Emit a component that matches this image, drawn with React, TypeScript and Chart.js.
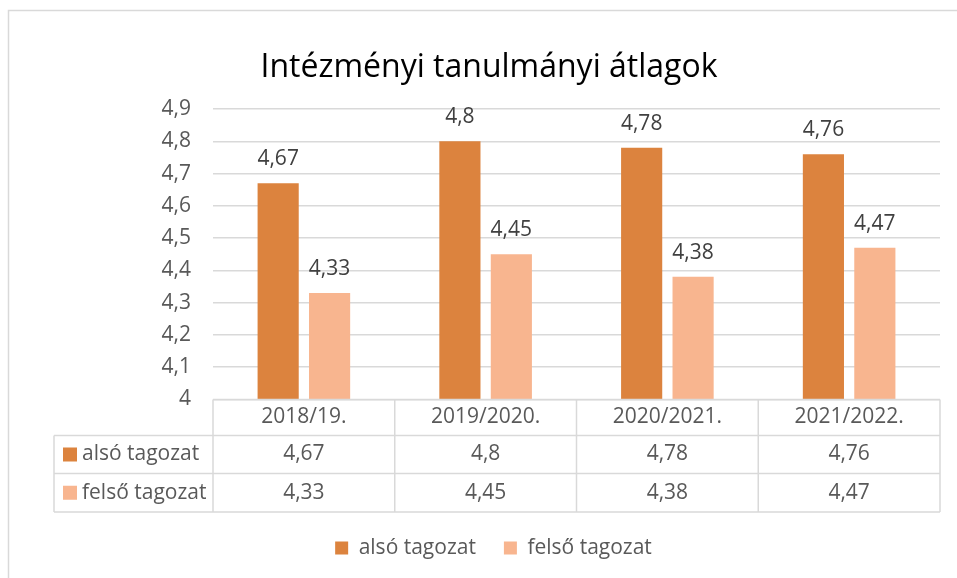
import React, { useEffect, useRef } from "react";
import { Chart, registerables } from "chart.js";

Chart.register(...registerables);

const chartTitle = "Intézményi tanulmányi átlagok";
const categories = ["2018/19.", "2019/2020.", "2020/2021.", "2021/2022."];
const seriesNames = ["alsó tagozat", "felső tagozat"];
const alsoValues = [4.67, 4.8, 4.78, 4.76];
const felsoValues = [4.33, 4.45, 4.38, 4.47];
const yMin = 4;
const yMax = 4.9;
const yStep = 0.1;
const seriesColors = ["#DC833E", "#F8B58F"];

const FONT = '"Open Sans", sans-serif';
const GRID = "#d9d9d9";
const TEXT = "#595959";

const fmt = (v: number) => String(Math.round(v * 100) / 100).replace(".", ",");

const decorPlugin = {
  id: "decor",
  beforeDraw(chart: any) {
    const ctx = chart.ctx;
    ctx.save();
    ctx.fillStyle = "#ffffff";
    ctx.fillRect(0, 0, chart.width, chart.height);
    ctx.strokeStyle = GRID;
    ctx.lineWidth = 1.5;
    ctx.strokeRect(8.5, 10.5, chart.width + 50, chart.height + 50);
    ctx.restore();
  },
  afterDatasetsDraw(chart: any) {
    const ctx = chart.ctx;
    ctx.save();
    ctx.font = `21px ${FONT}`;
    ctx.fillStyle = "#404040";
    ctx.textAlign = "center";
    ctx.textBaseline = "alphabetic";
    chart.data.datasets.forEach((ds: any, di: number) => {
      const meta = chart.getDatasetMeta(di);
      meta.data.forEach((el: any, i: number) => {
        ctx.fillText(fmt(ds.data[i]), el.x, el.y - 18);
      });
    });
    ctx.restore();
  },
  afterDraw(chart: any) {
    const ctx = chart.ctx;
    const area = chart.chartArea;
    const xs = chart.scales.x;
    ctx.save();
    // title
    ctx.font = `32px ${FONT}`;
    ctx.fillStyle = "#000000";
    ctx.textAlign = "center";
    ctx.textBaseline = "alphabetic";
    ctx.fillText(chartTitle, 489, 77);

    // data table
    const half = (xs.getPixelForValue(1) - xs.getPixelForValue(0)) / 2;
    const edges = [area.left];
    categories.forEach((_, i) => edges.push(xs.getPixelForValue(i) + half));
    const tableLeft = 54;
    const y0 = area.bottom;
    const y1 = y0 + 36;
    const y2 = y1 + 38;
    const y3 = y2 + 38.5;
    ctx.strokeStyle = GRID;
    ctx.lineWidth = 1.5;
    ctx.beginPath();
    ctx.moveTo(area.left, y0);
    ctx.lineTo(area.right, y0);
    [y1, y2, y3].forEach((y) => {
      ctx.moveTo(tableLeft, y);
      ctx.lineTo(area.right, y);
    });
    ctx.moveTo(tableLeft, y1);
    ctx.lineTo(tableLeft, y3);
    edges.forEach((x) => {
      ctx.moveTo(x, y0);
      ctx.lineTo(x, y3);
    });
    ctx.stroke();

    ctx.font = `21px ${FONT}`;
    ctx.fillStyle = TEXT;
    ctx.textBaseline = "middle";
    ctx.textAlign = "center";
    categories.forEach((c, i) => {
      const cx = xs.getPixelForValue(i);
      ctx.fillText(c, cx, (y0 + y1) / 2);
      ctx.fillText(fmt(alsoValues[i]), cx, (y1 + y2) / 2);
      ctx.fillText(fmt(felsoValues[i]), cx, (y2 + y3) / 2);
    });
    const rowsY = [(y1 + y2) / 2, (y2 + y3) / 2];
    seriesNames.forEach((name, si) => {
      ctx.fillStyle = seriesColors[si];
      ctx.fillRect(63, rowsY[si] - 7, 14, 14);
      ctx.fillStyle = TEXT;
      ctx.textAlign = "left";
      ctx.fillText(name, 82, rowsY[si]);
    });
    ctx.restore();
  },
};

export default function App() {
  const ref = useRef<HTMLCanvasElement | null>(null);

  useEffect(() => {
    document.body.style.margin = "0";
    const canvas = ref.current;
    if (!canvas) return;
    const chart = new Chart(canvas, {
      type: "bar",
      data: {
        labels: categories,
        datasets: [
          {
            label: seriesNames[0],
            data: alsoValues,
            backgroundColor: seriesColors[0],
            barPercentage: 0.8,
            categoryPercentage: 0.566,
          },
          {
            label: seriesNames[1],
            data: felsoValues,
            backgroundColor: seriesColors[1],
            barPercentage: 0.8,
            categoryPercentage: 0.566,
          },
        ],
      },
      options: {
        responsive: false,
        animation: false,
        devicePixelRatio: 1,
        layout: { padding: { top: 109, left: 47, right: 17, bottom: 9.5 } },
        plugins: {
          title: { display: false },
          tooltip: { enabled: false },
          legend: {
            display: true,
            position: "bottom",
            labels: {
              boxWidth: 13,
              boxHeight: 13,
              padding: 28,
              color: TEXT,
              font: { family: FONT, size: 21 },
            },
          },
        },
        scales: {
          x: {
            grid: { display: false },
            border: { display: false },
            ticks: { display: false },
            afterFit(scale: any) {
              scale.height = 110;
            },
          },
          y: {
            min: yMin,
            max: yMax,
            grid: { color: GRID, lineWidth: 1.5, drawTicks: false },
            border: { display: false },
            ticks: {
              stepSize: yStep,
              padding: 22,
              color: TEXT,
              font: { family: FONT, size: 21 },
              callback: (v: any) => fmt(Number(v)),
            },
            afterFit(scale: any) {
              scale.width = 166;
            },
          },
        },
      },
      plugins: [decorPlugin],
    });
    return () => chart.destroy();
  }, []);

  return (
    <div style={{ width: 957, height: 578, overflow: "hidden" }}>
      <canvas ref={ref} width={957} height={578} style={{ display: "block" }} />
    </div>
  );
}
